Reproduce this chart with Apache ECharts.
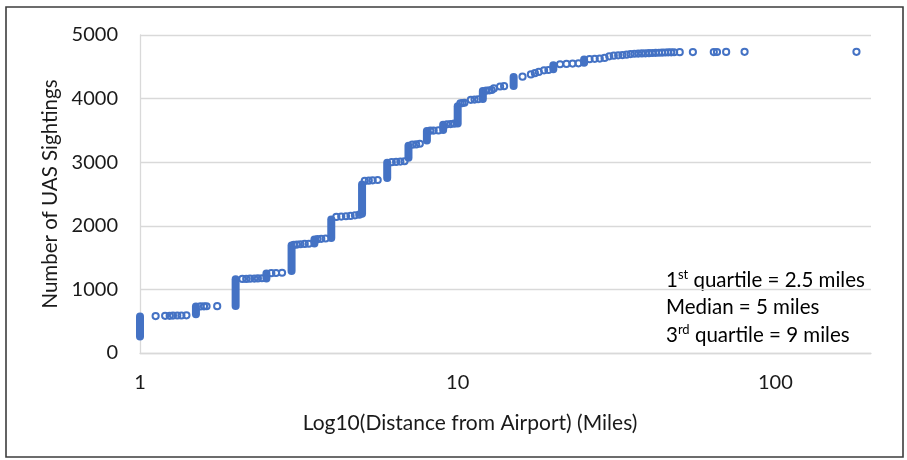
<!DOCTYPE html>
<html>
<head>
<meta charset="utf-8">
<script src="https://cdn.jsdelivr.net/npm/echarts@6/dist/echarts.min.js"></script>
<style>
  html, body { margin: 0; padding: 0; background: #fff; }
  #chart { width: 907px; height: 460px; }
</style>
</head>
<body>
<div id="chart"></div>
<script>
// Cumulative UAS sightings by distance from the nearest airport.
// Distances that many sightings share appear as vertical runs of counts.
const runDistance = [1, 1.5, 2, 2.5, 3, 3.54, 4, 5, 6, 7, 8, 9, 10, 12, 15, 20, 25];
const runLow      = [260, 610, 740, 1170, 1290, 1720, 1810, 2190, 2750, 3070, 3340, 3505, 3610, 3995, 4200, 4460, 4565];
const runHigh     = [575, 730, 1160, 1250, 1690, 1785, 2100, 2650, 2990, 3260, 3490, 3590, 3880, 4120, 4340, 4525, 4615];

// Single sightings between the runs.
const pointDistance = [
  1.12, 1.2, 1.24, 1.27, 1.31, 1.35, 1.4,
  1.55, 1.59, 1.62, 1.75,
  2.1, 2.16, 2.22, 2.29, 2.35, 2.42,
  2.59, 2.68, 2.8,
  3.05, 3.12, 3.2, 3.3, 3.4,
  3.62, 3.72, 3.84,
  4.15, 4.3, 4.45, 4.6, 4.75, 4.9,
  5.1, 5.25, 5.4, 5.6,
  6.2, 6.4, 6.6, 6.8,
  7.2, 7.4, 7.6,
  8.2, 8.4, 8.7,
  9.25, 9.5, 9.75,
  10.2, 10.35, 10.5, 11, 11.3, 11.6,
  12.3, 12.6, 12.8, 13, 13.6, 14,
  16, 17, 17.5, 18, 18.7, 19.3,
  21, 22, 23, 24,
  26, 27, 28, 29, 30, 31, 32, 33, 34, 35, 36, 37, 38, 39, 40,
  41, 42, 43, 44, 45, 46, 47, 48, 50, 55, 64, 65.5, 70, 80, 180
];
const pointCount = [
  580, 585, 585, 588, 590, 590, 592,
  732, 734, 735, 736,
  1165, 1165, 1168, 1170, 1172, 1175,
  1255, 1258, 1262,
  1700, 1705, 1710, 1715, 1718,
  1790, 1795, 1800,
  2140, 2145, 2150, 2155, 2165, 2175,
  2705, 2710, 2715, 2720,
  3000, 3005, 3010, 3015,
  3275, 3280, 3290,
  3495, 3498, 3500,
  3595, 3600, 3605,
  3925, 3930, 3935, 3980, 3985, 3990,
  4125, 4130, 4135, 4160, 4190, 4195,
  4345, 4380, 4400, 4420, 4445, 4450,
  4540, 4545, 4550, 4555,
  4620, 4625, 4630, 4640, 4665, 4675, 4680, 4685, 4690, 4700, 4705, 4708, 4710, 4712, 4715,
  4717, 4719, 4721, 4723, 4725, 4727, 4728, 4729, 4730, 4731, 4732, 4733, 4734, 4735, 4736
];

const yTicks = { min: 0, max: 5000, step: 1000 };
const xRange = { min: 1, max: 200 };
const decadeLabels = [1, 10, 100];

const blue = '#4472C4';
const textColor = '#1a1a1a';
const font = 'Lato, "Open Sans", sans-serif';

const runs = runDistance.map((d, i) => [d, runLow[i], runHigh[i]]);
const points = pointDistance.map((d, i) => [d, pointCount[i]]);

const chart = echarts.init(document.getElementById('chart'), null, { renderer: 'canvas' });

const noteRich = {
  a: { fontFamily: font, fontSize: 20.5, color: textColor, lineHeight: 24 },
  s: { fontFamily: font, fontSize: 13, color: textColor, lineHeight: 13, verticalAlign: 'top' }
};

chart.setOption({
  animation: false,
  backgroundColor: '#fff',
  grid: { left: 140, right: 36, top: 35, bottom: 107 },
  xAxis: {
    type: 'log',
    logBase: 10,
    min: xRange.min,
    max: xRange.max,
    name: 'Log10(Distance from Airport) (Miles)',
    nameLocation: 'middle',
    nameGap: 60,
    nameTextStyle: { fontFamily: font, fontSize: 21, color: textColor, padding: [0, 71, 0, 0] },
    axisLine: { show: true, lineStyle: { color: '#d9d9d9', width: 1.3 } },
    axisTick: { show: false },
    splitLine: { show: false },
    axisLabel: {
      margin: 20,
      fontFamily: font,
      fontSize: 20,
      color: textColor,
      showMaxLabel: false,
      formatter: v => (decadeLabels.some(d => Math.abs(d - v) < 1e-6) ? String(Math.round(v)) : '')
    }
  },
  yAxis: {
    type: 'value',
    min: yTicks.min,
    max: yTicks.max,
    interval: yTicks.step,
    name: 'Number of UAS Sightings',
    nameLocation: 'middle',
    nameGap: 77,
    nameTextStyle: { fontFamily: font, fontSize: 20.5, color: textColor },
    axisLine: { show: true, lineStyle: { color: '#d9d9d9', width: 1.3 } },
    axisTick: { show: false },
    splitLine: { show: true, lineStyle: { color: '#d9d9d9', width: 1.3 } },
    axisLabel: {
      margin: 22, fontFamily: font, fontSize: 20, color: textColor,
      formatter: v => String(v)
    }
  },
  series: [
    {
      // vertical runs of overlapping markers
      type: 'custom',
      data: runs,
      encode: { x: 0, y: [1, 2] },
      renderItem: (params, api) => {
        const top = api.coord([api.value(0), api.value(2)]);
        const bottom = api.coord([api.value(0), api.value(1)]);
        return {
          type: 'line',
          shape: { x1: top[0], y1: top[1], x2: bottom[0], y2: bottom[1] },
          style: { stroke: blue, lineWidth: 8, lineCap: 'round' }
        };
      },
      z: 2
    },
    {
      type: 'scatter',
      data: points,
      symbol: 'circle',
      symbolSize: 6.2,
      itemStyle: { color: 'rgba(0,0,0,0)', borderColor: blue, borderWidth: 2, opacity: 1 },
      z: 3
    }
  ],
  graphic: [
    {
      type: 'rect',
      shape: { x: 6, y: 7, width: 897, height: 450 },
      style: { fill: 'none', stroke: '#3d3d3d', lineWidth: 1.6 },
      silent: true
    },
    {
      type: 'text',
      x: 666, y: 268,
      style: { text: '{a|1}{s|st}{a| quartile = 2.5 miles}', rich: noteRich }
    },
    {
      type: 'text',
      x: 666, y: 295,
      style: { text: '{a|Median = 5 miles}', rich: noteRich }
    },
    {
      type: 'text',
      x: 666, y: 323,
      style: { text: '{a|3}{s|rd}{a| quartile = 9 miles}', rich: noteRich }
    }
  ]
});
</script>
</body>
</html>
